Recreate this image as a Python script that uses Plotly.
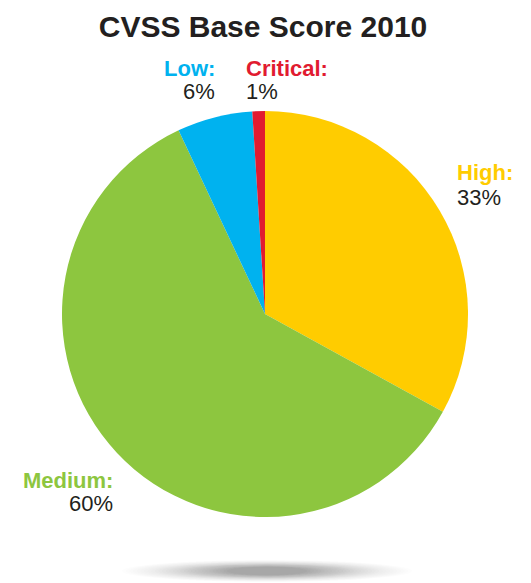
import plotly.graph_objects as go

# CVSS base score distribution, 2010
categories = ["High", "Medium", "Low", "Critical"]
shares = [33, 60, 6, 1]
colors = ["#FFCC00", "#8DC63F", "#00B2EF", "#E11B30"]

W, H = 531, 583
FONT = "Liberation Sans, Arial, Helvetica, sans-serif"
TEXT_DARK = "#231F20"


def px(x):
    return x / W


def py(y):
    return 1 - y / H


fig = go.Figure()
fig.add_trace(go.Pie(
    labels=categories,
    values=shares,
    sort=False,
    direction="clockwise",
    rotation=0,
    marker=dict(colors=colors, line=dict(width=0)),
    textinfo="none",
    hoverinfo="label+percent",
    showlegend=False,
    domain=dict(x=[px(62), px(468)], y=[py(518), py(110)]),
))

# label placement: (anchor x, label-line center, value-line center, anchor side)
label_pos = {
    "High": (455, 173, 197, "left"),
    "Medium": (115, 480, 503, "right"),
    "Low": (217, 68, 92, "right"),
    "Critical": (244, 68, 92, "left"),
}
annotations = []
for cat, val, col in zip(categories, shares, colors):
    x, y1, y2, anchor = label_pos[cat]
    annotations.append(dict(
        x=px(x), y=py(y1), xref="paper", yref="paper",
        text=f"<b>{cat}:</b>", showarrow=False, xanchor=anchor, yanchor="middle",
        font=dict(family=FONT, size=22, color=col),
    ))
    annotations.append(dict(
        x=px(x), y=py(y2), xref="paper", yref="paper",
        text=f"{val}%", showarrow=False, xanchor=anchor, yanchor="middle",
        font=dict(family=FONT, size=22, color=TEXT_DARK),
    ))

# soft floor shadow under the pie, built from stacked translucent ellipses
shapes = []
steps = 30
for i in range(steps):
    t = i / (steps - 1)
    half_w = 145 - t * 105
    half_h = 11 - t * 7
    cx, cy = 267, 571
    shapes.append(dict(
        type="circle", xref="paper", yref="paper",
        x0=px(cx - half_w), x1=px(cx + half_w),
        y0=py(cy + half_h), y1=py(cy - half_h),
        fillcolor="#444444", opacity=0.012 + 0.02 * t * t, line=dict(width=0),
        layer="below",
    ))

fig.update_layout(
    width=W, height=H,
    margin=dict(l=0, r=0, t=0, b=0),
    paper_bgcolor="white",
    plot_bgcolor="white",
    title=dict(
        text="<b>CVSS Base Score 2010</b>",
        x=px(263), y=py(26), xanchor="center", yanchor="middle",
        font=dict(family=FONT, size=30, color=TEXT_DARK),
    ),
    annotations=annotations,
    shapes=shapes,
)

fig.write_html("out.html")
